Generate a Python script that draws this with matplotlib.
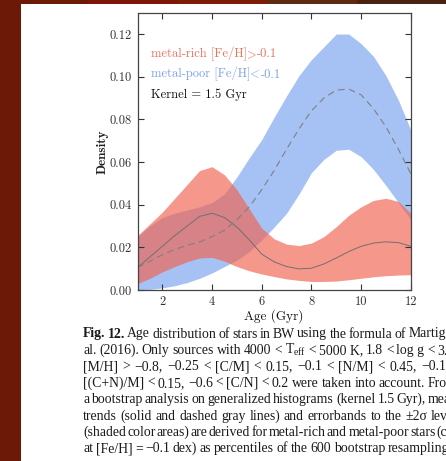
import numpy as np
import matplotlib
matplotlib.use("Agg")
import matplotlib.pyplot as plt
from matplotlib.patches import Rectangle
from matplotlib.colors import LinearSegmentedColormap

plt.rcParams['axes.unicode_minus'] = False
plt.rcParams['mathtext.fontset'] = 'custom'
plt.rcParams['mathtext.rm'] = 'Liberation Serif'
plt.rcParams['mathtext.it'] = 'Liberation Serif:italic'

# ---------------- data ----------------
age = [1, 1.5, 2, 2.5, 3, 3.5, 4, 4.5, 5, 5.5, 6, 6.5, 7, 7.5, 8, 8.5, 9, 9.5, 10, 10.5, 11, 11.5, 12]

rich_hi = [0.0255, 0.031, 0.0365, 0.043, 0.0495, 0.056, 0.0578, 0.054, 0.047, 0.038, 0.029, 0.024,
           0.0215, 0.0208, 0.022, 0.025, 0.0297, 0.035, 0.039, 0.042, 0.043, 0.0415, 0.036]
rich_lo = [0.003, 0.0055, 0.0085, 0.011, 0.0133, 0.015, 0.0153, 0.0135, 0.011, 0.009, 0.0075, 0.0063,
           0.0052, 0.0045, 0.004, 0.004, 0.0042, 0.0048, 0.0055, 0.0062, 0.0067, 0.007, 0.0072]
rich_mean = [0.0105, 0.0155, 0.0205, 0.0255, 0.030, 0.0345, 0.036, 0.034, 0.0295, 0.0235, 0.0168, 0.0132,
             0.011, 0.0099, 0.0102, 0.0122, 0.015, 0.018, 0.0205, 0.022, 0.0226, 0.0222, 0.0205]

poor_hi = [0.025, 0.030, 0.034, 0.036, 0.0375, 0.039, 0.041, 0.045, 0.053, 0.062, 0.0705, 0.081,
           0.091, 0.1005, 0.108, 0.114, 0.120, 0.120, 0.1155, 0.1095, 0.1005, 0.089, 0.075]
poor_lo = [0.0, 0.0003, 0.001, 0.002, 0.0035, 0.0055, 0.008, 0.011, 0.014, 0.018, 0.0235, 0.0295,
           0.036, 0.045, 0.055, 0.0612, 0.0655, 0.066, 0.0625, 0.0565, 0.049, 0.041, 0.033]
poor_mean = [0.0105, 0.0135, 0.0165, 0.019, 0.021, 0.0225, 0.025, 0.028, 0.033, 0.039, 0.047, 0.056,
             0.066, 0.0755, 0.084, 0.090, 0.0937, 0.0942, 0.0915, 0.085, 0.0765, 0.066, 0.0545]

xticks = [2, 4, 6, 8, 10, 12]
yticks = [0.00, 0.02, 0.04, 0.06, 0.08, 0.10, 0.12]

# legend texts split in pieces: (text, font family)
legend_lines = [
    [("metal-rich [Fe/H]", 'cmr10'), (">", 'cmmi10'), ("-0.1", 'cmr10')],
    [("metal-poor [Fe/H]", 'cmr10'), ("<", 'cmmi10'), ("-0.1", 'cmr10')],
    [("Kernel = 1.5 Gyr", 'cmr10')],
]

caption = [
    "Fig. 12. Age distribution of stars in BW using the formula of Martig et",
    "al. (2016). Only sources with 4000 < T$_\\mathrm{eff}$ < 5000\u00a0K, 1.8 < log\u00a0g < 3.5,",
    "[M/H] > \u22120.8, \u22120.25 < [C/M] < 0.15, \u22120.1 < [N/M] < 0.45, \u22120.1 <",
    "[(C+N)/M] < 0.15, \u22120.6 < [C/N] < 0.2 were taken into account. From",
    "a bootstrap analysis on generalized histograms (kernel 1.5 Gyr), mean",
    "trends (solid and dashed gray lines) and errorbands to the \u00b12\u03c3 level",
    "(shaded color areas) are derived for metal-rich and metal-poor stars (cut",
    "at [Fe/H] = \u22120.1 dex) as percentiles of the 600 bootstrap resamplings.",
]

# ---------------- figure ----------------
W, H = 446, 461
fig = plt.figure(figsize=(W / 100, H / 100), dpi=100)
fig.patch.set_facecolor('white')

# dark background frame (left strip + top strip)
fig.patches.append(Rectangle((0, 0), 21 / W, 1, transform=fig.transFigure,
                             facecolor='#6c1a07', edgecolor='none', zorder=-5))
bg = fig.add_axes([0, 1 - 3.6 / H, 1, 3.6 / H], zorder=-4)
grad = np.array([[0.0, 0.15, 0.45, 0.75, 1.0]])
cmap = LinearSegmentedColormap.from_list('top', ['#6c1a07', '#8c1208', '#7a2008', '#5e2a10', '#4a2212'])
bg.imshow(grad, aspect='auto', cmap=cmap, extent=[0, 1, 0, 1])
bg.axis('off')

ax_w_px, ax_h_px = 273.3, 277.3
ax = fig.add_axes([137.5 / W, 1 - 290 / H, ax_w_px / W, ax_h_px / H])

ax.fill_between(age, poor_lo, poor_hi, color='#6b98ec', alpha=0.6, linewidth=0)
ax.fill_between(age, rich_lo, rich_hi, color='#f0624f', alpha=0.66, linewidth=0)
ax.plot(age, rich_mean, color='#707070', lw=0.7)
ax.plot(age, poor_mean, color='#808080', lw=0.8, dashes=(6, 4))

ax.set_xlim(1, 12)
ax.set_ylim(0, 0.13)
ax.set_xticks(xticks)
ax.set_xticklabels([str(t) for t in xticks])
ax.set_yticks(yticks)
ax.set_yticklabels([f"{t:.2f}" for t in yticks])
ax.tick_params(direction='in', top=True, right=True, length=4, width=0.8,
               labelsize=9, colors='#333333', pad=4)
for lab in ax.get_xticklabels() + ax.get_yticklabels():
    lab.set_family('cmr10')
for s in ax.spines.values():
    s.set_color('#444444')
    s.set_linewidth(0.9)

ax.set_xlabel('Age (Gyr)', family='cmr10', fontsize=9.5, labelpad=1, color='#111111')
ax.set_ylabel('Density', family='cmb10', fontsize=9.5, labelpad=1, color='#222222')

renderer = fig.canvas.get_renderer()

leg_colors = ['#e8735f', '#7fa2e4', '#111111']
leg_y = [0.8536, 0.779, 0.707]
base_off = 3.6 / ax_h_px
for pieces, c, yy in zip(legend_lines, leg_colors, leg_y):
    x = 0.048
    for txt, fam in pieces:
        t = ax.text(x, yy - base_off, txt, transform=ax.transAxes, family=fam, fontsize=9,
                    color=c, va='baseline', ha='left')
        x += (t.get_window_extent(renderer).width + 0.3) / ax_w_px

# ---------------- caption (justified) ----------------
left_px, right_px = 83, 458
fs = 9.9
base0, dy = 337.5, 16.4
for i, line in enumerate(caption):
    words = line.split(' ')
    objs = []
    for j, w in enumerate(words):
        bold = (i == 0 and j < 2)
        t = fig.text(0, 0, w, family='Liberation Serif', fontsize=fs,
                     fontweight='bold' if bold else 'normal', color='#1a1a1a',
                     va='baseline', ha='left')
        objs.append(t)
    widths = [o.get_window_extent(renderer).width for o in objs]
    gap = (right_px - left_px - sum(widths)) / max(len(words) - 1, 1)
    x = left_px
    yb = base0 + i * dy
    for o, wdt in zip(objs, widths):
        o.set_position((x / W, 1 - yb / H))
        x += wdt + gap

fig.savefig('out.png', dpi=100)
